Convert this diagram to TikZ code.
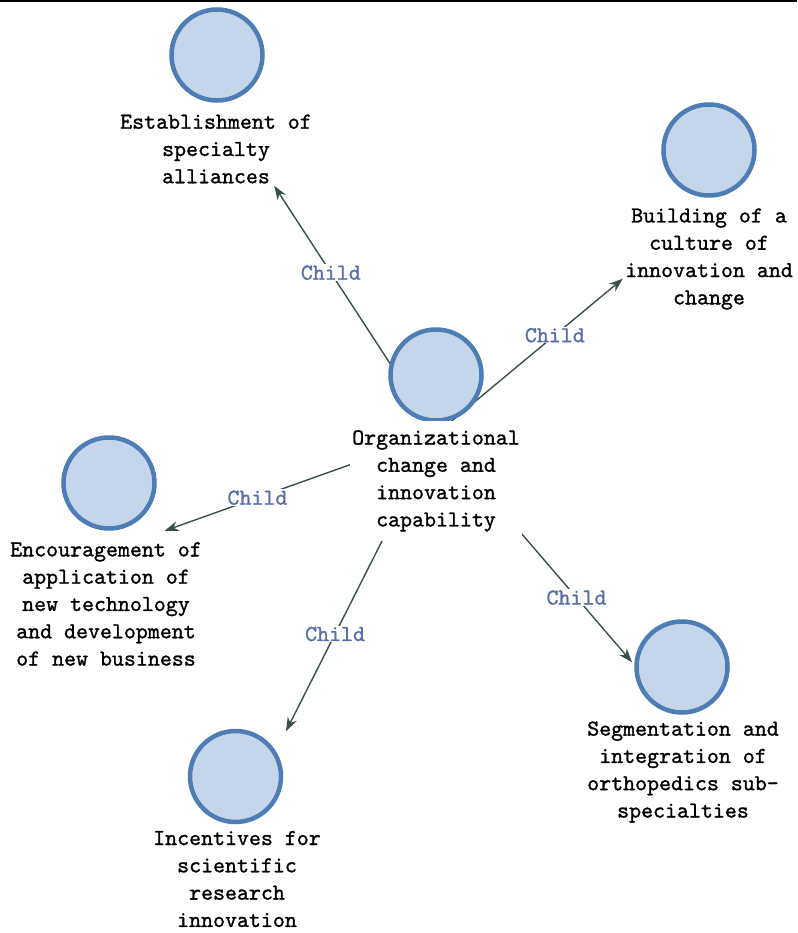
\documentclass[tikz,border=0pt]{standalone}
\usepackage{fontspec}
\usetikzlibrary{arrows.meta,fit,backgrounds}
\definecolor{ringblue}{HTML}{4E7DB5}
\definecolor{discfill}{HTML}{C5D6EB}
\definecolor{edgegreen}{HTML}{3B5048}
\definecolor{tagblue}{HTML}{5B6EA6}
\newfontfamily\monoface{lmmono10-regular.otf}[FakeBold=1.2]
\newcommand\lblfont{\monoface\fontsize{22.8}{27.3}\selectfont}
\begin{document}
\begin{tikzpicture}[x=1pt,y=-1pt,
  disc/.style={circle,draw=ringblue,fill=discfill,line width=4.5pt,minimum size=91pt,inner sep=0pt},
  caption/.style={align=center,fill=white,inner sep=2pt,font=\lblfont},
  group/.style={inner sep=0pt},
  link/.style={draw=edgegreen,line width=1.4pt,-{Stealth[length=14pt,width=10pt]}},
  tag/.style={fill=white,inner sep=1pt,text=tagblue,font=\lblfont}]
\useasboundingbox (0,0) rectangle (797,933);
% rule along the top edge
\fill (0,0) rectangle (797,2);

% root topic
\node[disc] (c) at (436,375) {};
\node[caption,inner ysep=9pt] (cl) at (436,481) {Organizational\\change and\\innovation\\capability};
\node[group,fit=(c)(cl)] (cg) {};

% subtopics
\node[disc] (tl) at (217,55) {};
\node[caption] (tll) at (216,149) {Establishment of\\specialty\\alliances};
\node[group,fit=(tl)(tll)] (tlg) {};

\node[disc] (tr) at (709,150) {};
\node[caption] (trl) at (709,259) {Building of a\\culture of\\innovation and\\change};
\node[group,fit=(tr)(trl)] (trg) {};

\node[disc] (l) at (109,483) {};
\node[caption] (ll) at (106,604) {Encouragement of\\application of\\new technology\\and development\\of new business};
\node[group,fit=(l)(ll)] (lg) {};

\node[disc] (bl) at (235.5,776.5) {};
\node[caption] (bll) at (237,879) {Incentives for\\scientific\\research\\innovation};
\node[group,fit=(bl)(bll)] (blg) {};

\node[disc] (br) at (682,667) {};
\node[caption] (brl) at (683,772) {Segmentation and\\integration of\\orthopedics sub-\\specialties};
\node[group,fit=(br)(brl)] (brg) {};

% connectors, drawn beneath the topics
\begin{pgfonlayer}{background}
\draw[link] (cg.center) -- node[tag,pos=0.65]{Child} (tlg);
\draw[link] (cg.center) -- node[tag,pos=0.636]{Child} (trg);
\draw[link,shorten >=-42pt] (cg.center) -- node[tag,pos=0.77]{Child} (lg);
\draw[link,shorten >=-3pt] (cg.center) -- node[tag,pos=0.679]{Child} (blg);
\draw[link,shorten >=-57pt] (cg.center) -- node[tag,pos=0.884]{Child} (brg);
\end{pgfonlayer}
\end{tikzpicture}
\end{document}
